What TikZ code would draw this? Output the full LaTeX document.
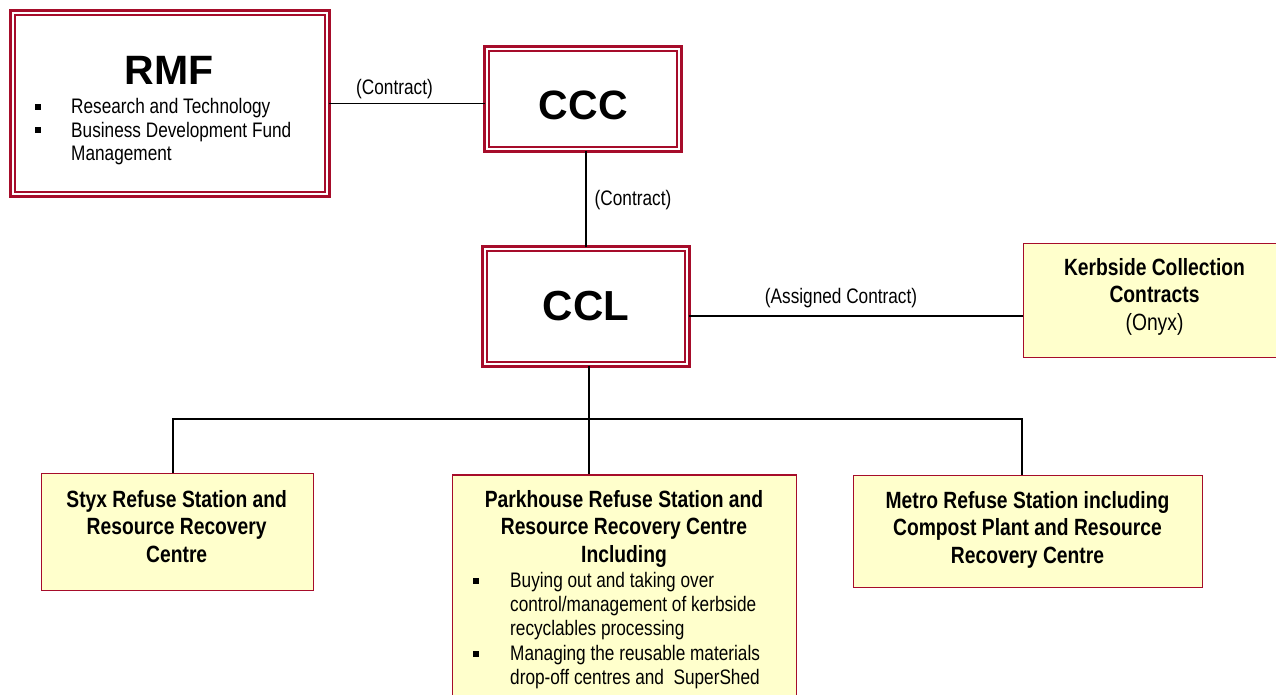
\documentclass[tikz,border=0pt]{standalone}
\usepackage{fontspec}
\setmainfont{Liberation Sans}
\newfontfamily\narrowsans[FakeStretch=0.82]{Liberation Sans}
\definecolor{boxred}{RGB}{166,12,42}
\definecolor{boxyellow}{RGB}{255,255,204}
\tikzset{
  orgbox/.style={rectangle, draw=boxred, line width=2.6pt, double=white, double distance=2pt, fill=white, inner sep=0pt},
  unitbox/.style={rectangle, draw=boxred, line width=1.6pt, fill=boxyellow, inner sep=0pt},
  link/.style={draw=black, line width=1.3pt},
  titletext/.style={font=\fontsize{41}{48}\selectfont\bfseries, inner sep=0pt, anchor=base},
  unittext/.style={font=\narrowsans\bfseries\fontsize{23.5}{27.5}\selectfont, align=center, inner sep=0pt, anchor=north},
  listtext/.style={font=\narrowsans\fontsize{21}{24}\selectfont, align=left, inner sep=0pt, anchor=north west},
  linklabel/.style={font=\narrowsans\fontsize{21}{24}\selectfont, inner sep=0pt, anchor=base},
  bulletmark/.style={rectangle, fill=black, inner sep=0pt, minimum size=6pt}
}
\begin{document}
\begin{tikzpicture}[x=1pt,y=-1pt]
\useasboundingbox (0,0) rectangle (1276,695);

% boxes
\node[orgbox, minimum width=314.8pt, minimum height=181.8pt] (RMF) at (170,103.5) {};
\node[orgbox, minimum width=192.8pt, minimum height=100.8pt] (CCC) at (583,99) {};
\node[orgbox, minimum width=202.8pt, minimum height=115.8pt] (CCL) at (586,306.5) {};
\node[unitbox, minimum width=266pt, minimum height=114pt] (Kerb) at (1156.5,300.5) {};
\node[unitbox, minimum width=272pt, minimum height=117pt] (Styx) at (177.5,532) {};
\node[unitbox, minimum width=344pt, minimum height=255pt] (Park) at (624.5,602.5) {};
\node[unitbox, minimum width=349pt, minimum height=112pt] (Metro) at (1028,531.5) {};

% titles
\node[titletext] (RMFt) at (169,85) {RMF};
\node[titletext] (CCCt) at (583.3,120) {CCC};
\node[titletext, font=\fontsize{42}{48}\selectfont\bfseries] (CCLt) at (586,320.7) {CCL};

% RMF list
\node[listtext, font=\narrowsans\fontsize{21}{23.5}\selectfont] (RMFlist) at (71,96.9)
  {\strut Research and Technology\\Business Development Fund\\Management};
\node[bulletmark] (RMFb1) at (38,107) {};
\node[bulletmark] (RMFb2) at (38,130.5) {};

% unit texts
\node[unittext] (Kerbt) at (1154.5,255.75)
  {\strut Kerbside Collection\\Contracts\\{\mdseries (Onyx)}};
\node[unittext] (Styxt) at (176.7,487.75)
  {\strut Styx Refuse Station and\\Resource Recovery\\Centre};
\node[unittext] (Parkt) at (624,488)
  {\strut Parkhouse Refuse Station and\\Resource Recovery Centre\\Including};
\node[unittext] (Metrot) at (1027.5,488.75)
  {\strut Metro Refuse Station including\\Compost Plant and Resource\\Recovery Centre};

% Parkhouse list
\node[listtext, font=\narrowsans\fontsize{21}{24.2}\selectfont] (Parklist) at (510,570.4)
  {\strut Buying out and taking over\\control/management of kerbside\\recyclables processing\\Managing the reusable materials\\drop-off centres and~ SuperShed};
\node[bulletmark] (Parkb1) at (476,580.5) {};
\node[bulletmark] (Parkb2) at (476,654) {};

% connectors
\coordinate (kj) at (700,316);
\coordinate (sj) at (173,419);
\coordinate (pj) at (589,419);
\coordinate (mj) at (1022,419);

\draw[link] (RMF.east) -- (RMF.east -| CCC.west);
\draw[link] (CCL.north) -- (CCL.north |- CCC.south);
\draw[link] (CCL.east |- kj) -- (Kerb.west |- kj);
\draw[link] (CCL.south -| pj) -- (Park.north -| pj);
\draw[link] (Styx.north -| sj) -- (sj) -- (mj) -- (Metro.north -| mj);

% connector labels
\node[linklabel] (lab1) at (394.5,95) {(Contract)};
\node[linklabel] (lab2) at (633,205) {(Contract)};
\node[linklabel] (lab3) at (841,303) {(Assigned Contract)};
\end{tikzpicture}
\end{document}
